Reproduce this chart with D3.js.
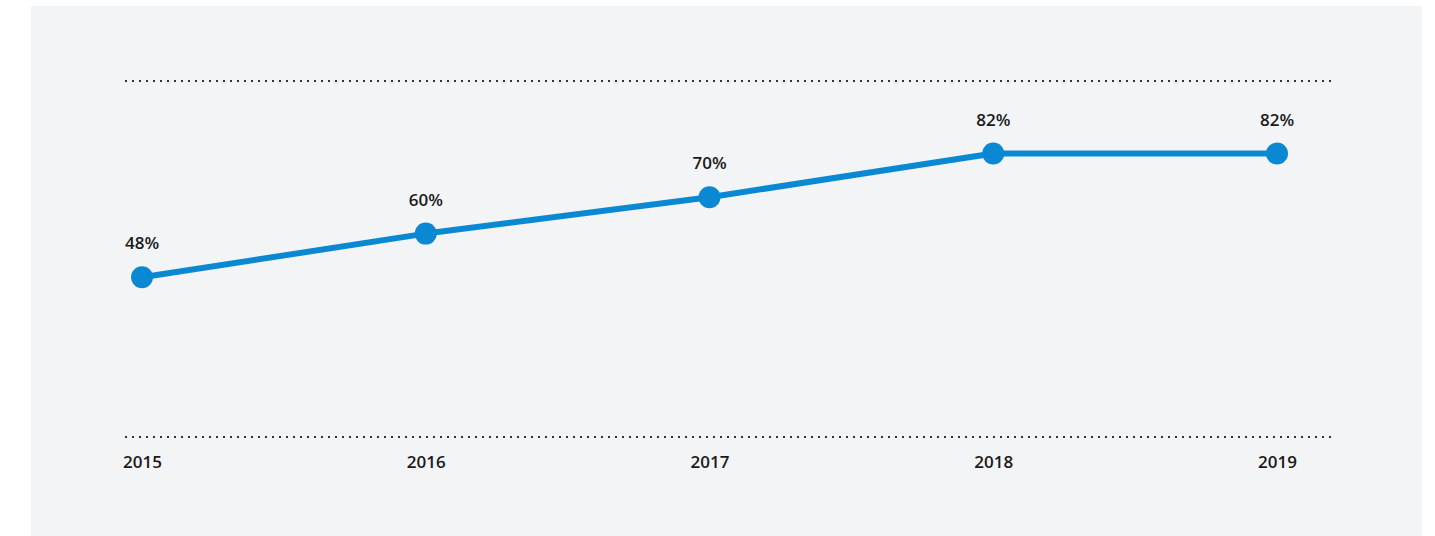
<!DOCTYPE html>
<html>
<head>
<meta charset="utf-8">
<script src="https://cdn.jsdelivr.net/npm/d3@7"></script>
<style>
  html, body { margin: 0; padding: 0; background: #ffffff; }
  svg { display: block; }
  text { font-family: "Open Sans", "Noto Sans", sans-serif; font-weight: 600; fill: #1a1a1a; }
</style>
</head>
<body>
<svg id="chart" width="1435" height="536"></svg>
<script>
// Yearly share, in percent
const years = ["2015", "2016", "2017", "2018", "2019"];
const shares = [48, 60, 70, 82, 82];

const W = 1435, H = 536;
const panel = { x: 31, y: 6, w: 1391, h: 530 };
const plot = { left: 125, right: 1332, top: 81, bottom: 437 };

const svg = d3.select("#chart");

// background panel
svg.append("rect")
  .attr("x", panel.x).attr("y", panel.y)
  .attr("width", panel.w).attr("height", panel.h)
  .attr("fill", "#f3f4f6");

const x = d3.scalePoint().domain(years).range([142, 1277]);
const y = d3.scaleLinear().domain([0, 100]).range([452, 88]);

// dotted frame lines at top and bottom of plot area
[plot.top, plot.bottom].forEach(yy => {
  svg.append("line")
    .attr("x1", plot.left).attr("x2", plot.right)
    .attr("y1", yy).attr("y2", yy)
    .attr("stroke", "#333")
    .attr("stroke-width", 2)
    .attr("stroke-dasharray", "2,5");
});

// x axis labels
const xAxis = d3.axisBottom(x).tickSize(0).tickPadding(0);
const gx = svg.append("g").attr("transform", `translate(0,${plot.bottom})`).call(xAxis);
gx.select(".domain").remove();
gx.selectAll("text")
  .attr("y", 31).attr("dy", null)
  .attr("font-size", 17)
  .attr("font-family", null)
  .attr("fill", "#1a1a1a");

const data = years.map((yr, i) => ({ year: yr, value: shares[i] }));

// line
svg.append("path")
  .datum(data)
  .attr("fill", "none")
  .attr("stroke", "#0a89d2")
  .attr("stroke-width", 6)
  .attr("stroke-linejoin", "round")
  .attr("d", d3.line().x(d => x(d.year)).y(d => y(d.value)));

// markers
svg.selectAll("circle.pt")
  .data(data)
  .join("circle")
  .attr("class", "pt")
  .attr("cx", d => x(d.year))
  .attr("cy", d => y(d.value))
  .attr("r", 11)
  .attr("fill", "#0a89d2");

// value labels
svg.selectAll("text.val")
  .data(data)
  .join("text")
  .attr("class", "val")
  .attr("x", d => x(d.year))
  .attr("y", d => y(d.value) - 28)
  .attr("text-anchor", "middle")
  .attr("font-size", 17)
  .text(d => d.value + "%");
</script>
</body>
</html>
